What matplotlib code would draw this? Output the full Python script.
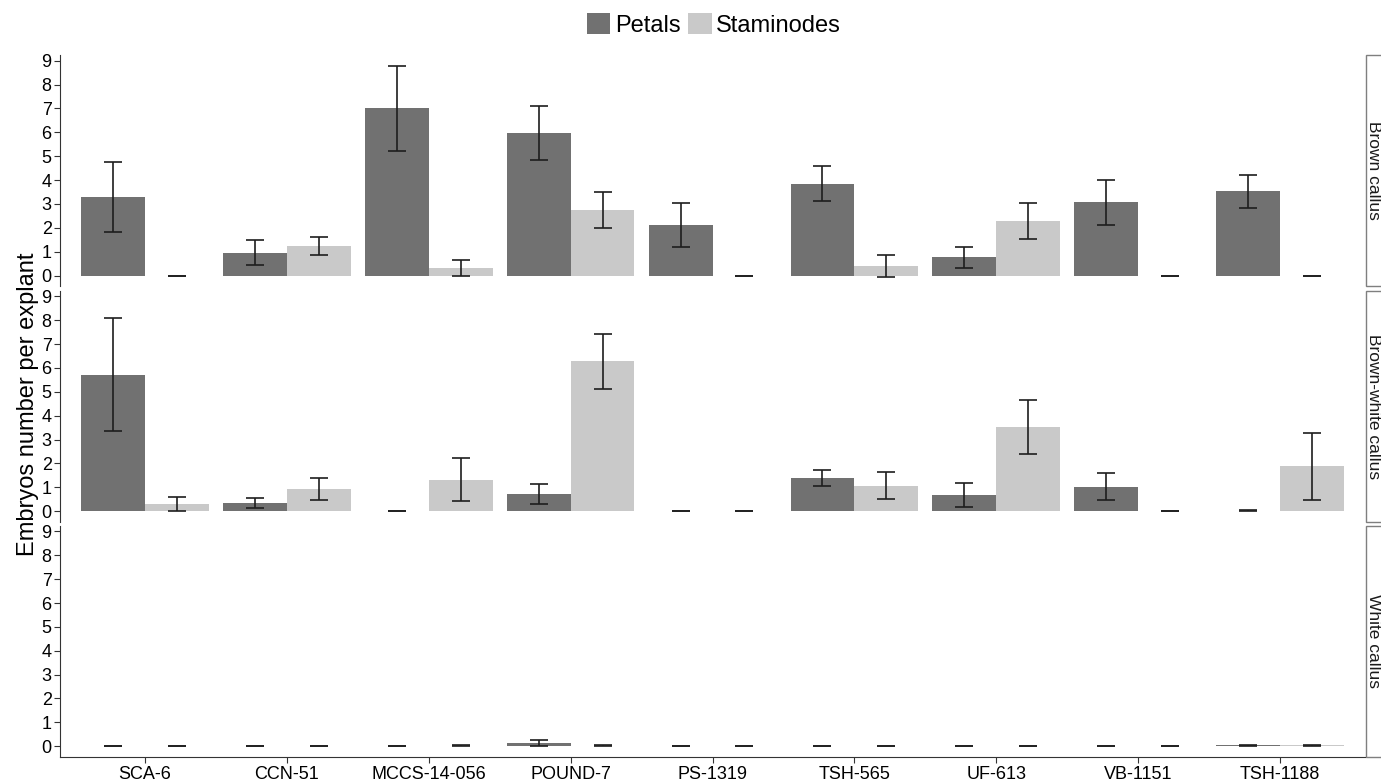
import numpy as np
import matplotlib
matplotlib.use("Agg")
import matplotlib.pyplot as plt
from matplotlib.patches import Rectangle, Patch

plt.rcParams['font.family'] = ['Liberation Sans', 'DejaVu Sans']

# data
clones = ["SCA-6", "CCN-51", "MCCS-14-056", "POUND-7", "PS-1319",
          "TSH-565", "UF-613", "VB-1151", "TSH-1188"]
callus = ["Brown callus", "Brown-white callus", "White callus"]

petals_mean = [
    [3.3, 0.95, 7.0, 5.97, 2.1, 3.85, 0.77, 3.07, 3.53],
    [5.72, 0.35, 0.0, 0.73, 0.0, 1.4, 0.69, 1.03, 0.02],
    [0.0, 0.0, 0.0, 0.15, 0.0, 0.0, 0.0, 0.0, 0.03],
]
petals_se = [
    [1.47, 0.52, 1.78, 1.15, 0.92, 0.73, 0.44, 0.95, 0.69],
    [2.37, 0.2, 0.0, 0.42, 0.0, 0.33, 0.5, 0.58, 0.02],
    [0.0, 0.0, 0.0, 0.13, 0.0, 0.0, 0.0, 0.0, 0.02],
]
stam_mean = [
    [0.0, 1.23, 0.3, 2.74, 0.0, 0.4, 2.28, 0.0, 0.0],
    [0.3, 0.94, 1.32, 6.27, 0.0, 1.07, 3.54, 0.0, 1.87],
    [0.0, 0.0, 0.02, 0.02, 0.0, 0.0, 0.0, 0.0, 0.03],
]
stam_se = [
    [0.0, 0.38, 0.33, 0.75, 0.0, 0.45, 0.75, 0.0, 0.0],
    [0.3, 0.46, 0.9, 1.15, 0.0, 0.55, 1.13, 0.0, 1.4],
    [0.0, 0.0, 0.02, 0.02, 0.0, 0.0, 0.0, 0.0, 0.02],
]

c_pet = "#717171"
c_sta = "#c9c9c9"
c_err = "#1e1e1e"

W, H = 1381, 782
fig = plt.figure(figsize=(W / 100, H / 100), dpi=100)

x = np.arange(len(clones))
bw = 0.45
left = 60
right = 1365
tops = [55, 290.6, 525.7]
ph = 231

axes = []
for i in range(3):
    ax = fig.add_axes([left / W, 1 - (tops[i] + ph) / H, (right - left) / W, ph / H])
    axes.append(ax)
    ax.bar(x - bw / 2, petals_mean[i], bw, color=c_pet, zorder=2)
    ax.bar(x + bw / 2, stam_mean[i], bw, color=c_sta, zorder=2)
    ax.errorbar(x - bw / 2, petals_mean[i], yerr=petals_se[i], fmt='none',
                ecolor=c_err, elinewidth=1.2, capsize=6.5, capthick=1.2, zorder=3)
    ax.errorbar(x + bw / 2, stam_mean[i], yerr=stam_se[i], fmt='none',
                ecolor=c_err, elinewidth=1.2, capsize=6.5, capthick=1.2, zorder=3)
    ax.set_xlim(-0.6, len(clones) - 0.4)
    ax.set_ylim(-0.44, 9.24)
    ax.set_yticks(range(10))
    ax.tick_params(axis='y', labelsize=13, length=4, color='#333333', pad=2)
    for s in ['top', 'right']:
        ax.spines[s].set_visible(False)
    ax.spines['left'].set_color('#333333')
    ax.spines['bottom'].set_color('#333333')
    if i < 2:
        ax.spines['bottom'].set_visible(False)
        ax.set_xticks([])
    else:
        ax.set_xticks(x)
        ax.set_xticklabels(clones, fontsize=13)
        ax.tick_params(axis='x', length=4, color='#333333', pad=3)

    # facet strip on the right
    ax.add_patch(Rectangle((1.0008, 0.0), 0.04, 1.0, transform=ax.transAxes,
                           facecolor='white', edgecolor='#7f7f7f', lw=1.0,
                           clip_on=False))
    ax.text((1373.5 - left) / (right - left), 0.5, callus[i], transform=ax.transAxes,
            rotation=-90, ha='center', va='center', fontsize=12.5,
            color='#1a1a1a', clip_on=False)

fig.text(28 / W, 0.483, "Embryos number per explant", rotation=90,
         ha='center', va='center', fontsize=17)

handles = [Patch(facecolor=c_pet, label="Petals"),
           Patch(facecolor=c_sta, label="Staminodes")]
fig.legend(handles=handles, loc='center', bbox_to_anchor=(714 / W, 1 - 25 / H),
           ncol=2, frameon=False, fontsize=17, handlelength=1.0, handleheight=1.0,
           handletextpad=0.2, columnspacing=0.3)

fig.savefig("out.png", dpi=100)
